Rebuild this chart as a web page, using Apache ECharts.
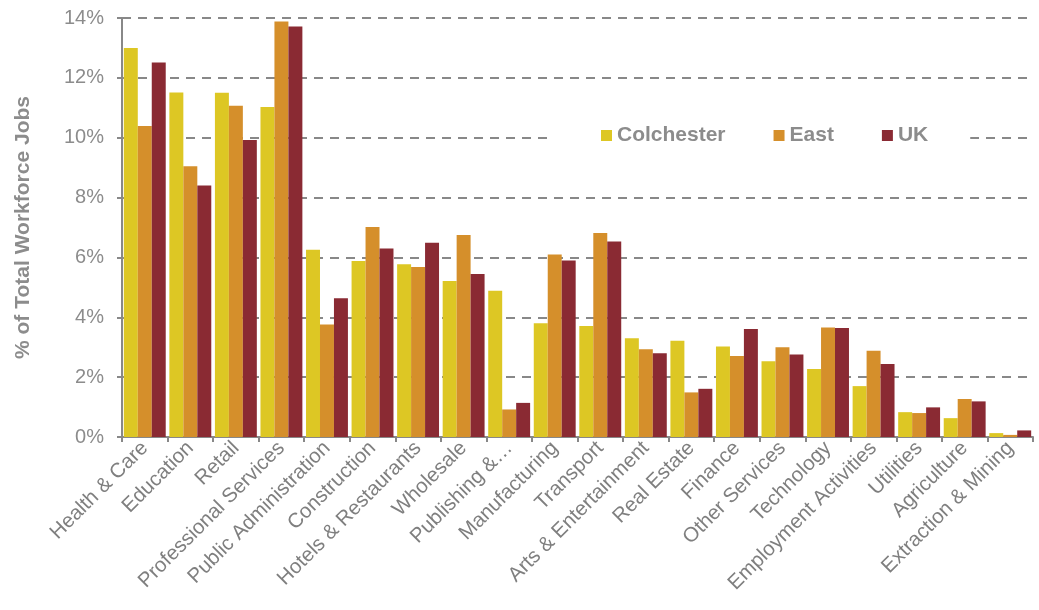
<!DOCTYPE html>
<html><head><meta charset="utf-8">
<script src="https://cdn.jsdelivr.net/npm/echarts@6/dist/echarts.min.js"></script>
<style>html,body{margin:0;padding:0;background:#fff}#c{width:1039px;height:610px}</style>
</head><body><div id="c"></div>
<script>
const categories = ["Health & Care","Education","Retail","Professional Services","Public Administration","Construction","Hotels & Restaurants","Wholesale","Publishing &…","Manufacturing","Transport","Arts & Entertainment","Real Estate","Finance","Other Services","Technology","Employment Activities","Utilities","Agriculture","Extraction & Mining"];
const colchester = [13.0,11.51,11.5,11.03,6.26,5.88,5.77,5.21,4.89,3.80,3.71,3.30,3.22,3.02,2.53,2.27,1.70,0.83,0.63,0.13];
const east = [10.39,9.05,11.07,13.88,3.76,7.02,5.68,6.75,0.92,6.10,6.82,2.93,1.49,2.71,3.00,3.66,2.88,0.80,1.27,0.07];
const uk = [12.51,8.40,9.92,13.72,4.64,6.30,6.49,5.45,1.14,5.90,6.53,2.80,1.61,3.61,2.76,3.64,2.44,0.99,1.19,0.22];
const yTicks = [0,2,4,6,8,10,12,14];

const font = "Liberation Sans, Arial, sans-serif";
const chart = echarts.init(document.getElementById('c'), null, {renderer:'canvas'});
chart.setOption({
  animation:false,
  textStyle:{fontFamily:font},
  grid:{left:122,right:6,top:18,bottom:173,containLabel:false},
  legend:{
    data:['Colchester','East','UK'],
    left:547, top:117, padding:[8,42,8,54],
    backgroundColor:'#fff',
    itemWidth:11,itemHeight:11,itemGap:48,
    icon:'rect',
    textStyle:{fontFamily:font,fontSize:21,fontWeight:'bold',color:'#8c8c8c'}
  },
  xAxis:{
    type:'category',data:categories,
    axisLine:{lineStyle:{color:'#888',width:2}},
    axisTick:{show:true,length:5,lineStyle:{color:'#888',width:2},alignWithLabel:false},
    axisLabel:{rotate:45,interval:0,fontSize:20.5,color:'#7f7f7f',fontFamily:font,margin:8}
  },
  yAxis:{
    type:'value',min:0,max:14,interval:2,
    name:'% of Total Workforce Jobs',nameLocation:'middle',nameGap:88,
    nameTextStyle:{fontSize:21,fontWeight:'bold',color:'#8c8c8c',fontFamily:font},
    axisLine:{show:true,lineStyle:{color:'#888',width:2}},
    axisTick:{show:true,length:5,lineStyle:{color:'#888',width:2}},
    axisLabel:{fontSize:20,color:'#8c8c8c',fontFamily:font,margin:18,formatter:v=>yTicks.includes(v)?v+'%':''},
    splitLine:{show:true,lineStyle:{color:'#888',width:2,type:[9,7]}}
  },
  series:[
    {name:'Colchester',type:'bar',data:colchester,itemStyle:{color:'#DDC724'},barGap:'0%',barCategoryGap:'8%'},
    {name:'East',type:'bar',data:east,itemStyle:{color:'#D58F2B'},barGap:'0%',barCategoryGap:'8%'},
    {name:'UK',type:'bar',data:uk,itemStyle:{color:'#8A2A33'},barGap:'0%',barCategoryGap:'8%'}
  ]
});
</script></body></html>
